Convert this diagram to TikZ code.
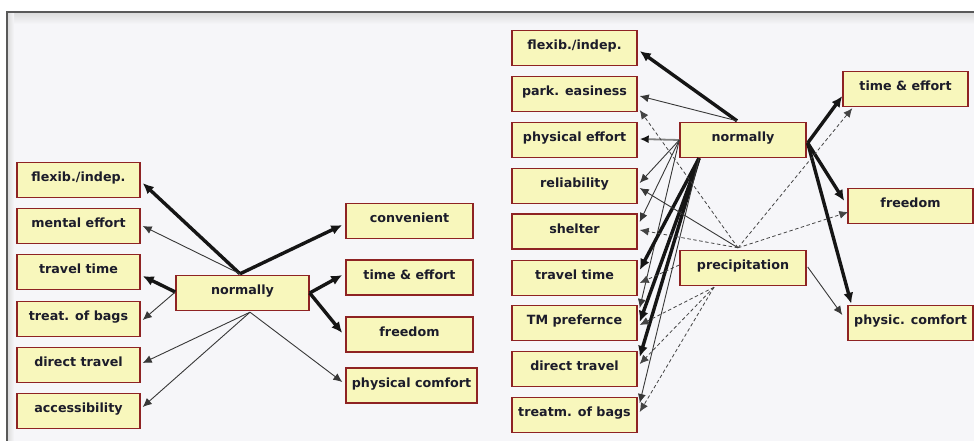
\documentclass[tikz,border=0pt]{standalone}
\usepackage{fontspec}
\setmainfont{DejaVu Sans}
\usetikzlibrary{arrows.meta,calc}

\definecolor{boxfill}{HTML}{F8F7BC}
\definecolor{boxline}{HTML}{8E2323}
\definecolor{panel}{HTML}{F6F6F9}
\definecolor{ink}{HTML}{151515}
\definecolor{labelink}{HTML}{1C1C2A}

\tikzset{
  concept/.style={draw=boxline, fill=boxfill, line width=1.4pt,
    minimum height=35pt, inner sep=0pt, text height=8pt, text depth=5pt,
    font=\fontsize{12.7}{14}\selectfont\bfseries, text=labelink},
  strong/.style={draw=ink, line width=3.4pt, -{Latex[length=11pt,width=10pt]}},
  weak/.style={draw=ink!85, line width=0.9pt, -{Latex[length=9pt,width=8pt]}},
  greyline/.style={draw=gray, line width=1.8pt, -{Latex[length=9pt,width=8pt,color=ink]}},
  dashedline/.style={draw=ink!80, line width=0.8pt, dash pattern=on 3.5pt off 2.5pt,
    -{Latex[length=9pt,width=8pt]}},
}

\begin{document}
\begin{tikzpicture}[x=1pt,y=-1pt]
\useasboundingbox (0,0) rectangle (974,441);

% window panel
\fill[white] (0,0) rectangle (974,441);
\fill[panel] (7,12) rectangle (974,441);
\shade[top color=black!14, bottom color=panel] (7,12.5) rectangle (974,24);
\shade[left color=black!14, right color=panel] (7.5,12) rectangle (14,441);
\draw[black!65, line width=1.2pt] (7,441) -- (7,12) -- (974,12);

% ---------- left map ----------
\node[concept, minimum width=123pt] (lflex)   at (78.5,180) {flexib./indep.};
\node[concept, minimum width=123pt] (lmental) at (78.5,226) {mental effort};
\node[concept, minimum width=123pt] (ltime)   at (78.5,272) {travel time};
\node[concept, minimum width=123pt] (lbags)   at (78.5,319) {treat. of bags};
\node[concept, minimum width=123pt] (ldirect) at (78.5,365) {direct travel};
\node[concept, minimum width=123pt] (lacc)    at (78.5,411) {accessibility};
\node[concept, minimum width=133pt] (lnorm)   at (242.5,293) {normally};
\node[concept, minimum width=127pt] (lconv)   at (409.5,221) {convenient};
\node[concept, minimum width=127pt] (lteff)   at (409.5,277.5) {time \& effort};
\node[concept, minimum width=127pt] (lfree)   at (409.5,334.5) {freedom};
\node[concept, minimum width=131pt] (lcomf)   at (411.5,385.5) {physical comfort};

\coordinate (ln-t) at ($(lnorm.north)+(-2.5,-1)$);
\coordinate (ln-l) at ($(lnorm.west)+(0,-1)$);
\coordinate (ln-b) at ($(lnorm.south)+(7.5,1)$);
\coordinate (ln-r) at ($(lnorm.east)+(0,0)$);

\draw[strong] (ln-t) -- ($(lflex.east)+(2,3)$);
\draw[weak]   (ln-t) -- ($(lmental.east)+(2,0)$);
\draw[strong] (ln-l) -- ($(ltime.east)+(2,4)$);
\draw[weak]   (ln-l) -- ($(lbags.east)+(2,1)$);
\draw[weak]   (ln-b) -- ($(ldirect.east)+(2,-2)$);
\draw[weak]   (ln-b) -- ($(lacc.east)+(2,-4)$);
\draw[strong] (ln-t) -- ($(lconv.west)+(-3,4)$);
\draw[strong] (ln-r) -- ($(lteff.west)+(-3,-2.5)$);
\draw[strong] (ln-r) -- ($(lfree.west)+(-3,-1.5)$);
\draw[weak]   (ln-b) -- ($(lcomf.west)+(-3,-3.5)$);

% ---------- right map ----------
\node[concept, minimum width=125pt] (rflex)   at (574.5,48)  {flexib./indep.};
\node[concept, minimum width=125pt] (rpark)   at (574.5,94)  {park. easiness};
\node[concept, minimum width=125pt] (reffort) at (574.5,140) {physical effort};
\node[concept, minimum width=125pt] (rrel)    at (574.5,186) {reliability};
\node[concept, minimum width=125pt] (rshel)   at (574.5,231.5) {shelter};
\node[concept, minimum width=125pt] (rtime)   at (574.5,278) {travel time};
\node[concept, minimum width=125pt] (rtm)     at (574.5,323) {TM prefernce};
\node[concept, minimum width=125pt] (rdir)    at (574.5,369) {direct travel};
\node[concept, minimum width=125pt] (rbags)   at (574.5,415) {treatm. of bags};
\node[concept, minimum width=126pt] (rnorm)   at (743,140) {normally};
\node[concept, minimum width=126pt] (rprec)   at (743,268) {precipitation};
\node[concept, minimum width=125pt] (rteff)   at (905.5,89) {time \& effort};
\node[concept, minimum width=125pt] (rfree)   at (910.5,206) {freedom};
\node[concept, minimum width=125pt] (rcomf)   at (910.5,323) {physic. comfort};

\coordinate (rn-t) at ($(rnorm.north)+(-6,-1)$);
\coordinate (rn-l) at ($(rnorm.west)+(0,0)$);
\coordinate (rn-b) at ($(rnorm.south)+(-44,0)$);
\coordinate (rn-r) at ($(rnorm.east)+(1,3)$);
\coordinate (pr-t) at ($(rprec.north)+(-5,-2)$);
\coordinate (pr-l) at ($(rprec.west)+(0,-3)$);
\coordinate (pr-b) at ($(rprec.south)+(-29,1)$);
\coordinate (pr-r) at ($(rprec.east)+(1,-1)$);

% links from "normally"
\draw[strong]   (rn-t) -- ($(rflex.east)+(2,3)$);
\draw[weak]     (rn-t) -- ($(rpark.east)+(2,2)$);
\draw[greyline] (rn-l) -- ($(reffort.east)+(2,-1)$);
\draw[weak]     (rn-l) -- ($(rrel.east)+(2,-3)$);
\draw[weak]     (rn-l) -- ($(rshel.east)+(2,-9.5)$);
\draw[weak]     (rn-l) -- ($(rtm.east)+(2,-15)$);
\draw[strong]   (rn-b) -- ($(rtime.east)+(2,-8)$);
\draw[strong]   (rn-b) -- ($(rtm.east)+(2,-1)$);
\draw[strong]   (rn-b) -- ($(rdir.east)+(2,-12)$);
\draw[weak]     (rn-b) -- ($(rbags.east)+(2,-12)$);
\draw[strong]   (rn-r) -- ($(rteff.west)+(0,7)$);
\draw[strong]   (rn-r) -- ($(rfree.west)+(-3,-5)$);
\draw[strong]   (rn-r) -- ($(rcomf.north west)+(4,-1)$);

% links from "precipitation"
\draw[dashedline] (pr-t) -- ($(rpark.east)+(2,16)$);
\draw[weak]       (pr-t) -- ($(rrel.east)+(2,2)$);
\draw[dashedline] (pr-t) -- ($(rshel.east)+(2,-1.5)$);
\draw[dashedline] (pr-l) -- ($(rtime.east)+(2,5)$);
\draw[dashedline] (pr-b) -- ($(rtm.east)+(2,2)$);
\draw[dashedline] (pr-b) -- ($(rdir.east)+(2,-5)$);
\draw[dashedline] (pr-b) -- ($(rbags.east)+(2,-3)$);
\draw[dashedline] (pr-t) -- ($(rteff.south west)+(10,1)$);
\draw[dashedline] (pr-t) -- ($(rfree.west)+(1,6)$);
\draw[weak]       (pr-r) -- ($(rcomf.west)+(-5,-8)$);
\end{tikzpicture}
\end{document}
